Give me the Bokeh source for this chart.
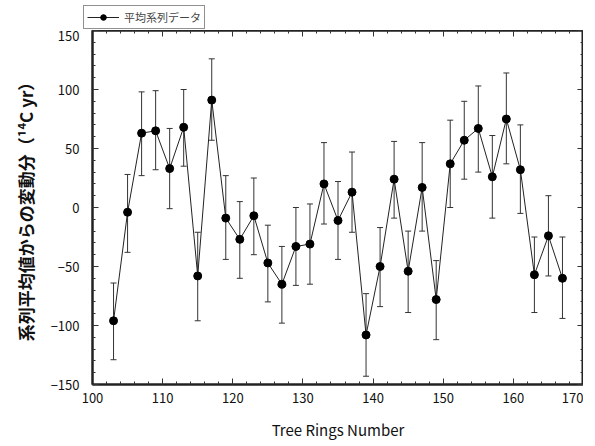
from bokeh.plotting import figure
from bokeh.layouts import column
from bokeh.models import (Range1d, LinearAxis, Whisker, ColumnDataSource, Legend, LegendItem,
                          FixedTicker, TeeHead, CustomJSTickFormatter)
from bokeh.embed import file_html
from bokeh.resources import INLINE

rings = [103, 105, 107, 109, 111, 113, 115, 117, 119, 121, 123, 125, 127, 129, 131, 133, 135,
         137, 139, 141, 143, 145, 147, 149, 151, 153, 155, 157, 159, 161, 163, 165, 167]
deviation = [-96, -4, 63, 65, 33, 68, -58, 91, -9, -27, -7, -47, -65, -33, -31, 20, -11,
             13, -108, -50, 24, -54, 17, -78, 37, 57, 67, 26, 75, 32, -57, -24, -60]
err_upper = [-64, 28, 98, 99, 67, 100, -21, 126, 27, 5, 25, -15, -33, 0, 3, 55, 22,
             47, -73, -17, 56, -20, 55, -45, 74, 90, 103, 61, 114, 70, -25, 10, -25]
err_lower = [-129, -38, 27, 32, -1, 35, -96, 57, -44, -60, -40, -80, -98, -66, -65, -14, -44,
             -21, -143, -84, -9, -89, -20, -112, 0, 24, 30, -9, 37, -5, -89, -58, -94]

legend_label = "平均系列データ"
x_label = "Tree Rings Number"
y_label = "系列平均値からの変動分（¹⁴C yr）"

FONT = "Noto Sans CJK JP"

src = ColumnDataSource(dict(x=rings, y=deviation, upper=err_upper, lower=err_lower))

# ---------- main chart ----------
p = figure(frame_width=491, frame_height=354, output_backend="svg", toolbar_location=None,
           x_range=Range1d(100, 170), y_range=Range1d(-150, 150),
           min_border=0, margin=(0, 0, 0, 9))
p.grid.visible = False
p.background_fill_color = "white"
p.border_fill_color = "white"
p.outline_line_color = "#222222"
p.outline_line_width = 2

bottom = p.below[0]
left = p.left[0]

xt = FixedTicker(ticks=list(range(100, 171, 10)), minor_ticks=list(range(100, 171, 2)))
yt = FixedTicker(ticks=list(range(-150, 151, 50)), minor_ticks=list(range(-150, 151, 10)))

bottom.ticker = xt
left.ticker = yt
bottom.axis_label = x_label
left.axis_label = y_label

blank = CustomJSTickFormatter(code="return '';")
top = LinearAxis(ticker=xt, formatter=blank, major_label_standoff=6)
right = LinearAxis(ticker=yt, formatter=blank, major_label_standoff=0)
p.add_layout(top, "above")
p.add_layout(right, "right")

for ax in [bottom, left, top, right]:
    ax.axis_line_color = "#222222"
    ax.axis_line_width = 2
    ax.major_tick_in = 6
    ax.major_tick_out = 0
    ax.minor_tick_in = 3
    ax.minor_tick_out = 0
    ax.major_tick_line_color = "#333333"
    ax.minor_tick_line_color = "#333333"
    ax.major_label_text_font = FONT
    ax.major_label_text_font_size = "13px"
    ax.major_label_text_color = "#111111"

top.major_label_text_font_size = "1px"
right.major_label_text_font_size = "1px"

bottom.major_label_standoff = 8
left.major_label_standoff = 13
bottom.axis_label_text_font = FONT
bottom.axis_label_text_font_size = "15px"
bottom.axis_label_text_font_style = "normal"
bottom.axis_label_text_color = "#111111"
bottom.axis_label_standoff = 13
left.axis_label_text_font = FONT
left.axis_label_text_font_size = "17px"
left.axis_label_text_font_style = "bold"
left.axis_label_text_color = "#111111"
left.axis_label_standoff = 10

wh = Whisker(source=src, base="x", upper="upper", lower="lower",
             line_color="#333333", line_width=1,
             upper_head=TeeHead(size=6, line_color="#333333", line_width=1),
             lower_head=TeeHead(size=6, line_color="#333333", line_width=1))
p.add_layout(wh)

p.line("x", "y", source=src, line_color="#222222", line_width=1)
p.scatter("x", "y", source=src, size=8, marker="circle", fill_color="black", line_color="black")

# ---------- legend strip above the frame ----------
lf = figure(width=560, height=30, output_backend="svg", toolbar_location=None,
            x_range=Range1d(0, 1), y_range=Range1d(0, 1), min_border=0,
            x_axis_type=None, y_axis_type=None)
lf.grid.visible = False
lf.outline_line_color = None
lf_ln = lf.line("x", "y", source=src, line_color="#222222", line_width=1)
lf_sc = lf.scatter("x", "y", source=src, size=7, marker="circle", fill_color="black", line_color="black")

leg = Legend(items=[LegendItem(label=legend_label, renderers=[lf_ln, lf_sc])],
             location=(0, 1), orientation="horizontal",
             border_line_color="#222222", border_line_width=1,
             padding=3, margin=0, spacing=0,
             label_text_font=FONT, label_text_font_size="11px",
             glyph_width=32, glyph_height=14, label_standoff=5,
             background_fill_alpha=1)
lf.add_layout(leg, "center")

layout = column(lf, p, spacing=0)
open("out.html", "w").write(file_html(layout, INLINE))
